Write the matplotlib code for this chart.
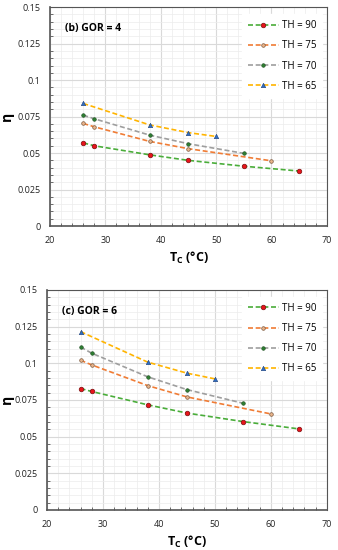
import matplotlib
matplotlib.use('Agg')
import matplotlib.pyplot as plt
from matplotlib.ticker import MultipleLocator

plt.rcParams['font.family'] = ['Open Sans', 'DejaVu Sans']
plt.rcParams['mathtext.fontset'] = 'custom'
plt.rcParams['mathtext.rm'] = 'Open Sans:bold'
plt.rcParams['mathtext.bf'] = 'Open Sans:bold'

# T_c values (°C) for each TH series
tc_90 = [26, 28, 38, 45, 55, 65]
tc_75 = [26, 28, 38, 45, 60]
tc_70 = [26, 28, 38, 45, 55]
tc_65 = [26, 38, 45, 50]

# efficiency eta, GOR = 4
gor4_90 = [0.057, 0.055, 0.0488, 0.045, 0.041, 0.0377]
gor4_75 = [0.0703, 0.068, 0.058, 0.053, 0.0447]
gor4_70 = [0.076, 0.0735, 0.0623, 0.0564, 0.0498]
gor4_65 = [0.084, 0.0693, 0.064, 0.0614]

# efficiency eta, GOR = 6
gor6_90 = [0.0827, 0.0807, 0.0716, 0.066, 0.0602, 0.0552]
gor6_75 = [0.102, 0.0988, 0.0847, 0.077, 0.0654]
gor6_70 = [0.111, 0.1068, 0.0907, 0.082, 0.0727]
gor6_65 = [0.1215, 0.1007, 0.0932, 0.0893]

labels = ['TH = 90', 'TH = 75', 'TH = 70', 'TH = 65']

styles = [
    dict(color='#4aad3a', marker='o', ms=3.3, mfc='#e8141b', mec='#7a1010', mew=0.5),
    dict(color='#f07c35', marker='o', ms=2.6, mfc='#e9b48a', mec='#7a5a40', mew=0.5),
    dict(color='#9e9e9e', marker='o', ms=2.6, mfc='#2e7d32', mec='#1b4d1e', mew=0.4),
    dict(color='#ffb400', marker='^', ms=3.2, mfc='#2f6fc4', mec='#1d3f7a', mew=0.4),
]

fig = plt.figure(figsize=(3.38, 5.5), dpi=100)
ax1 = fig.add_axes([0.148, 0.589, 0.819, 0.398])
ax2 = fig.add_axes([0.139, 0.073, 0.828, 0.400])

panels = [
    (ax1, '(b) GOR = 4', [gor4_90, gor4_75, gor4_70, gor4_65]),
    (ax2, '(c) GOR = 6', [gor6_90, gor6_75, gor6_70, gor6_65]),
]
xs = [tc_90, tc_75, tc_70, tc_65]

for ax, title, ys in panels:
    for x, y, lab, st in zip(xs, ys, labels, styles):
        ax.plot(x, y, linestyle=(0, (3, 1.6)), lw=1.2, label=lab, **st)
    ax.set_xlim(20, 70)
    ax.set_ylim(0, 0.15)
    ax.xaxis.set_major_locator(MultipleLocator(10))
    ax.xaxis.set_minor_locator(MultipleLocator(2))
    ax.yaxis.set_major_locator(MultipleLocator(0.025))
    ax.yaxis.set_minor_locator(MultipleLocator(0.005))
    ax.set_yticks([0, 0.025, 0.05, 0.075, 0.1, 0.125, 0.15])
    ax.set_yticklabels(['0', '0.025', '0.05', '0.075', '0.1', '0.125', '0.15'])
    ax.grid(which='major', color='#d9d9d9', lw=0.8)
    ax.grid(which='minor', color='#ececec', lw=0.5)
    ax.set_axisbelow(True)
    ax.tick_params(which='major', length=0, labelsize=6.5, colors='#222222', pad=7)
    ax.tick_params(which='minor', length=2.5, direction='in', color='#555555')
    for s in ax.spines.values():
        s.set_color('#555555')
        s.set_linewidth(0.8)
    ax.spines['left'].set_linewidth(1.2)
    ax.spines['bottom'].set_linewidth(1.2)
    ax.set_xlabel('T$_\\mathregular{C}$ (°C)', fontsize=9, fontweight='bold', labelpad=4)
    ax.set_ylabel('η', fontsize=10, fontweight='bold', rotation=90)
    ax.text(0.055, 0.89, title, transform=ax.transAxes, fontsize=7.5, fontweight='bold')
    leg = ax.legend(loc='upper right', bbox_to_anchor=(1.0, 0.99), fontsize=7,
                    frameon=True, framealpha=1, edgecolor='white', fancybox=False,
                    handlelength=3.2, labelspacing=0.95, handletextpad=0.3,
                    borderpad=0.6)

ax1.yaxis.set_label_coords(-0.13, 0.5)
ax2.yaxis.set_label_coords(-0.118, 0.5)

fig.savefig('out.png', dpi=100)
